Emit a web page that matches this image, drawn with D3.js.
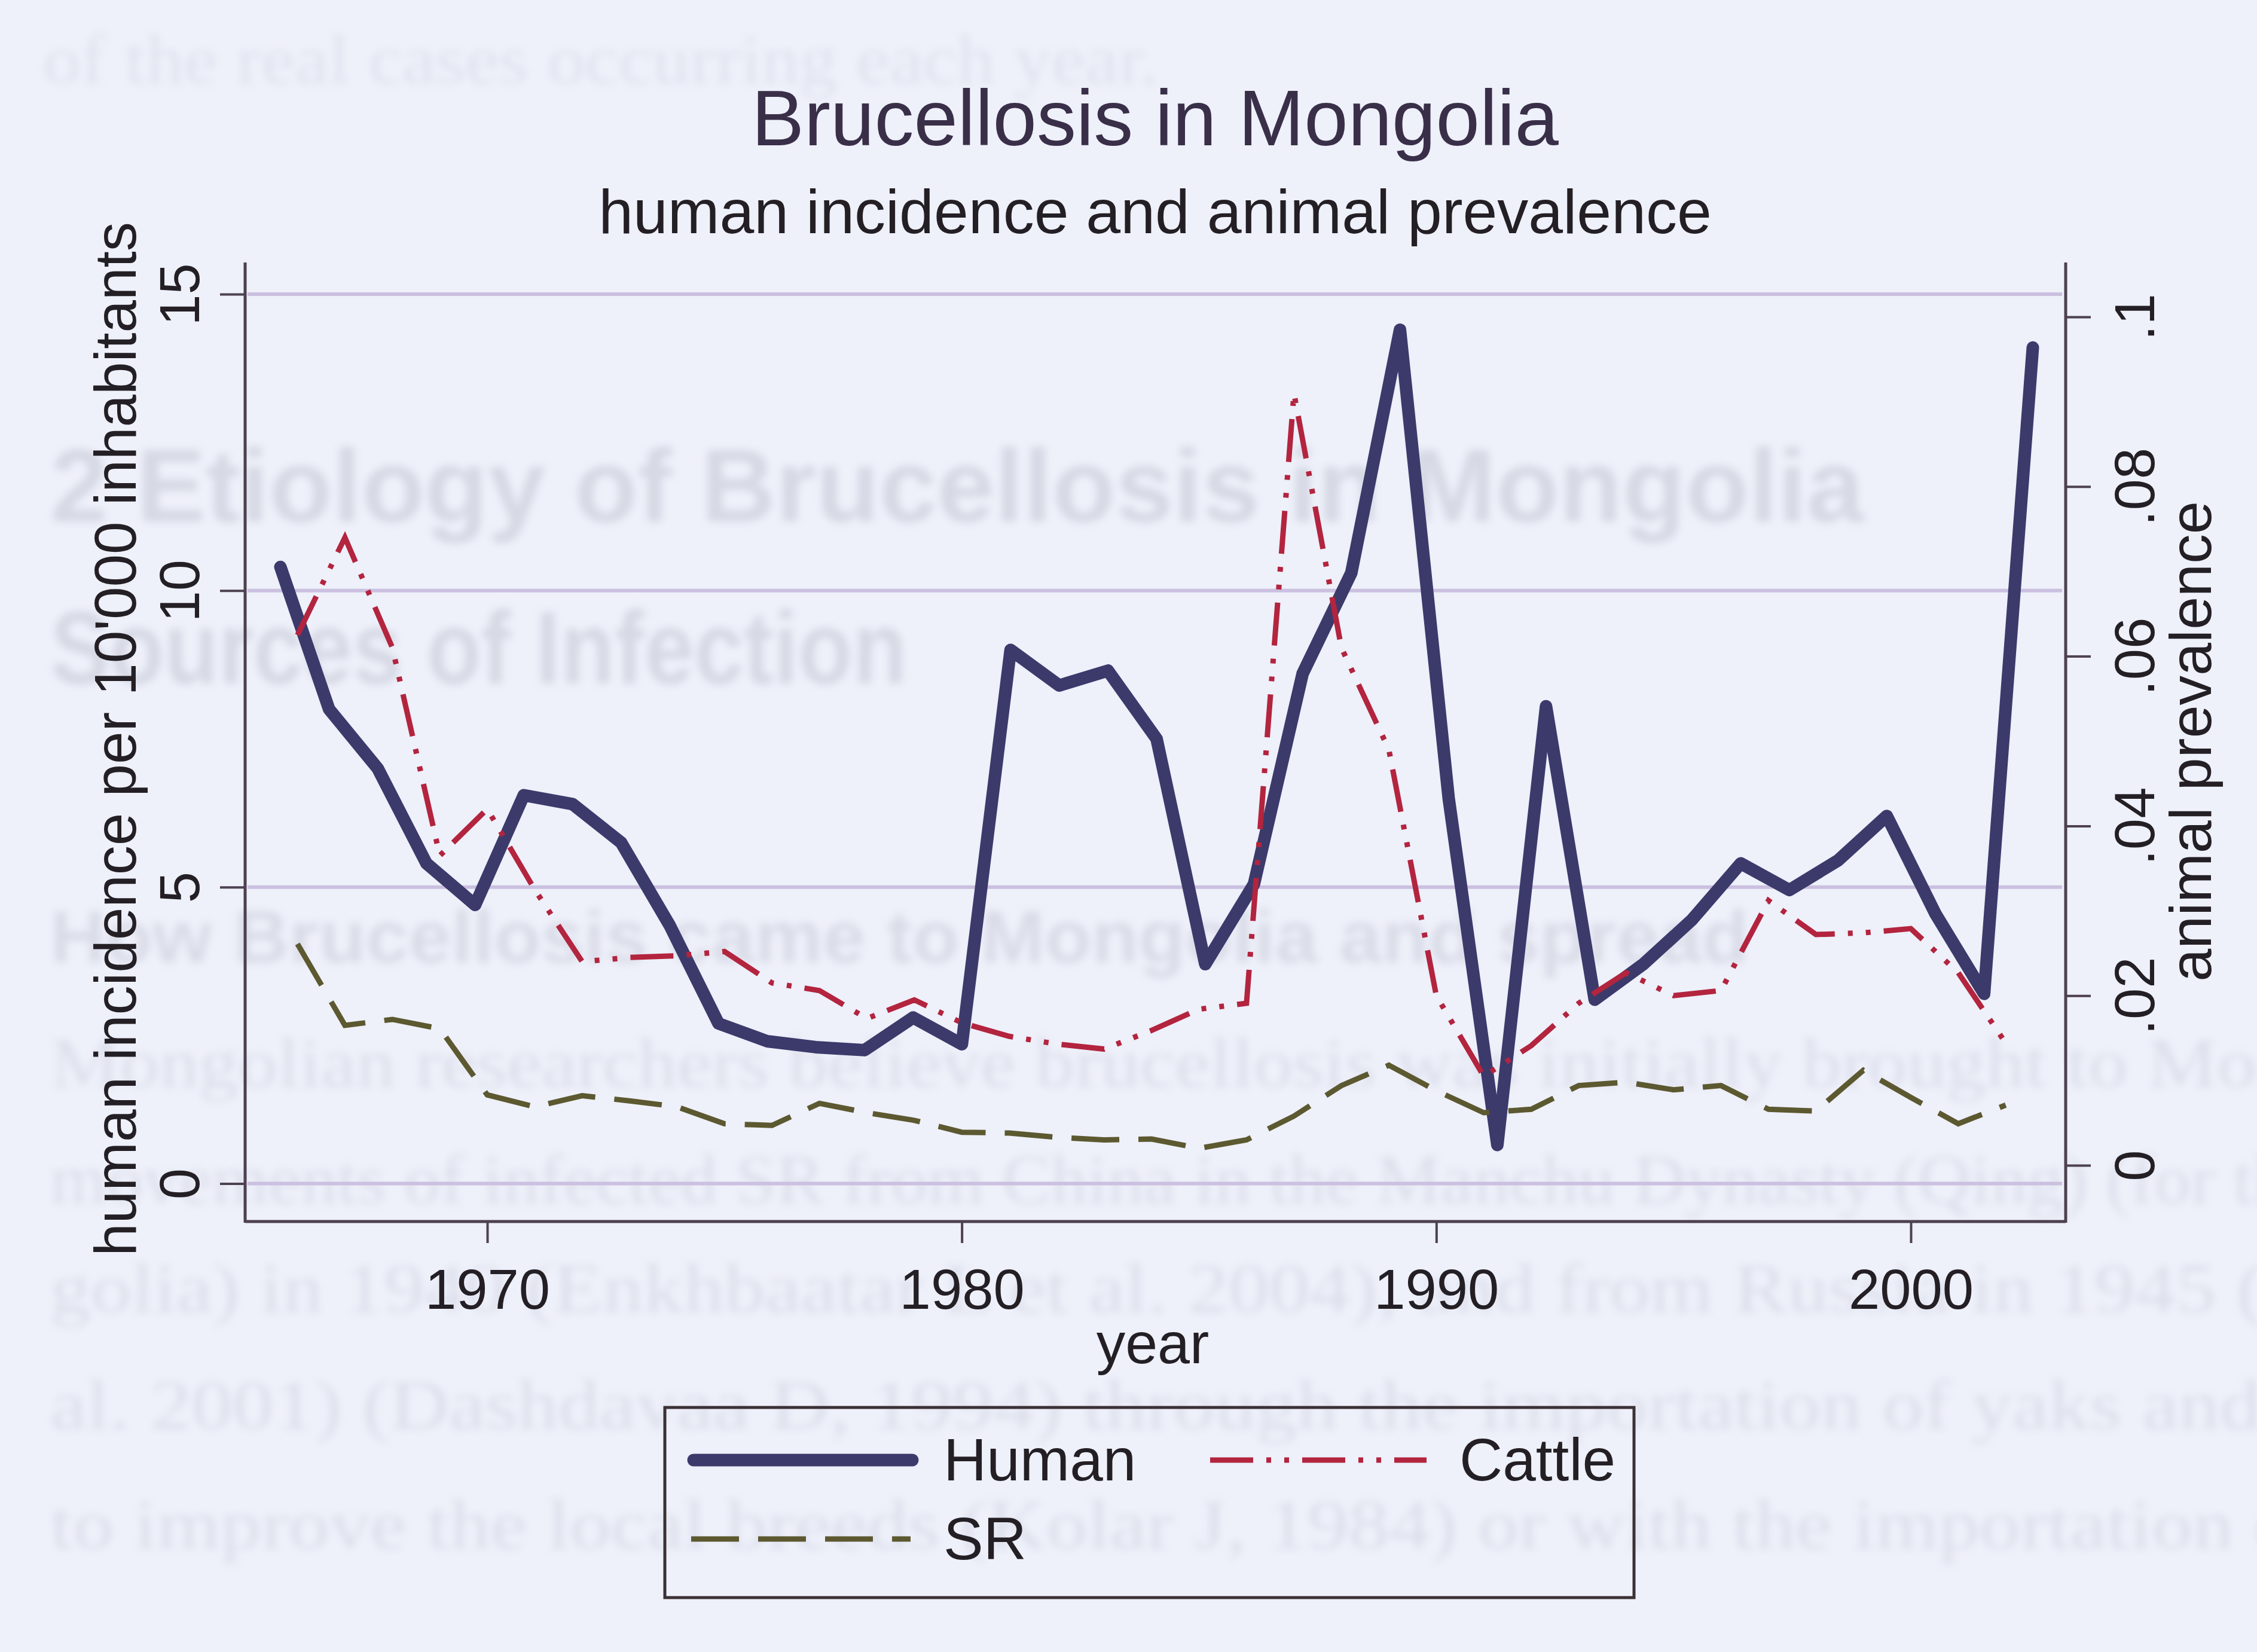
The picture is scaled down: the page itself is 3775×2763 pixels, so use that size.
<!DOCTYPE html>
<html>
<head>
<meta charset="utf-8">
<title>Brucellosis in Mongolia</title>
<script src="https://cdn.jsdelivr.net/npm/d3@7"></script>
<style>
  html, body { margin: 0; padding: 0; background: #eef0fa; }
  svg { display: block; font-family: "Liberation Sans", Arial, Helvetica, sans-serif; }
</style>
</head>
<body>
<div id="chart"></div>
<script>
// Years shared by all three series
const years = [1966, 1967, 1968, 1969, 1970, 1971, 1972, 1973, 1974, 1975,
               1976, 1977, 1978, 1979, 1980, 1981, 1982, 1983, 1984, 1985,
               1986, 1987, 1988, 1989, 1990, 1991, 1992, 1993, 1994, 1995,
               1996, 1997, 1998, 1999, 2000, 2001, 2002];

// Human incidence per 10'000 inhabitants (left axis)
const human = [10.4, 8.0, 7.0, 5.4, 4.7, 6.55, 6.4, 5.75, 4.35, 2.7,
               2.4, 2.3, 2.25, 2.8, 2.35, 9.0, 8.4, 8.65, 7.5, 3.7,
               5.05, 8.6, 10.3, 14.4, 6.5, 0.65, 8.05, 3.1, 3.7, 4.45,
               5.4, 4.95, 5.45, 6.2, 4.55, 3.2, 14.1];

// Animal prevalence (right axis)
const cattle = [0.0625, 0.074, 0.061, 0.0365, 0.042, 0.0325, 0.024, 0.0245, 0.0247, 0.0252,
                0.0215, 0.0206, 0.0173, 0.0195, 0.0168, 0.0152, 0.0143, 0.0137, 0.0159, 0.0184,
                0.0191, 0.091, 0.061, 0.049, 0.020, 0.0105, 0.0141, 0.0191, 0.0227, 0.020,
                0.0206, 0.0312, 0.0272, 0.0274, 0.0279, 0.0227, 0.0144];

const sr = [0.0261, 0.0165, 0.0172, 0.0161, 0.0083, 0.0069, 0.0082, 0.0076, 0.0069, 0.0049,
            0.0047, 0.0073, 0.0062, 0.0053, 0.0039, 0.0038, 0.0033, 0.0030, 0.0031, 0.0020,
            0.0030, 0.0058, 0.0094, 0.0118, 0.0088, 0.0062, 0.0066, 0.0094, 0.0098, 0.0089,
            0.0094, 0.0066, 0.0064, 0.0112, 0.0080, 0.0049, 0.0071];

const xTicks = [1970, 1980, 1990, 2000];
const leftTicks = [0, 5, 10, 15];
const rightTicks = [0, 0.02, 0.04, 0.06, 0.08, 0.1];
const rightTickLabels = ["0", ".02", ".04", ".06", ".08", ".1"];
const legendLabels = ["Human", "Cattle", "SR"];

// Faint bleed-through text from the scanned page behind the chart
const ghostLines = [
    "of the real cases occurring each year.",
    "2 Etiology of Brucellosis in Mongolia",
    "Sources of Infection",
    "How Brucellosis came to Mongolia and spread",
    "Mongolian researchers believe brucellosis was initially brought to Mon-",
    "movements of infected SR from China in the Manchu Dynasty (Qing) (for the",
    "golia) in 1940 (Enkhbaatar L et al. 2004), and from Russia in 1945 (O",
    "al. 2001) (Dashdavaa D, 1994) through the importation of yaks and h",
    "to improve the local breeds (Kolar J, 1984) or with the importation of"
];

function drawChart() {
    const W = 3775, H = 2763;
    const plot = { left: 410, right: 3455, top: 439, bottom: 2043 };
    const ink = "#231f24";
    const axisColor = "#4d4150";

    const svg = d3.select("#chart").append("svg")
        .attr("width", W)
        .attr("height", H)
        .attr("viewBox", `0 0 ${W} ${H}`);

    svg.append("rect").attr("width", W).attr("height", H).attr("fill", "#eef0fa");

    // ghost text layer
    const defs = svg.append("defs");
    defs.append("filter").attr("id", "blur")
        .attr("x", "-5%").attr("y", "-20%").attr("width", "110%").attr("height", "140%")
        .append("feGaussianBlur").attr("stdDeviation", 7);

    const ghostStyle = [
        { x: 72, y: 140, size: 118, bold: false, len: 1866, fill: "#e0e3ee" },
        { x: 84, y: 872, size: 172, bold: true, len: 3034, fill: "#d6d9e4" },
        { x: 84, y: 1143, size: 172, bold: true, len: 1433, fill: "#d6d9e4" },
        { x: 84, y: 1610, size: 124, bold: true, len: 2841, fill: "#d9dce7" },
        { x: 84, y: 1818, size: 118, bold: false, len: 3800, fill: "#dcdfea" },
        { x: 84, y: 2013, size: 118, bold: false, len: 3800, fill: "#dcdfea" },
        { x: 84, y: 2195, size: 118, bold: false, len: 3800, fill: "#dcdfea" },
        { x: 84, y: 2390, size: 118, bold: false, len: 3800, fill: "#dcdfea" },
        { x: 84, y: 2590, size: 118, bold: false, len: 3800, fill: "#dcdfea" }
    ];
    svg.append("g").attr("filter", "url(#blur)")
        .selectAll("text")
        .data(ghostLines)
        .enter().append("text")
        .attr("x", (d, i) => ghostStyle[i].x)
        .attr("y", (d, i) => ghostStyle[i].y)
        .attr("font-size", (d, i) => ghostStyle[i].size)
        .attr("font-weight", (d, i) => ghostStyle[i].bold ? "bold" : "normal")
        .attr("font-family", (d, i) => ghostStyle[i].bold ? "'Liberation Sans', Arial, sans-serif" : "'Liberation Serif', 'Times New Roman', serif")
        .attr("textLength", (d, i) => ghostStyle[i].len)
        .attr("lengthAdjust", "spacingAndGlyphs")
        .attr("fill", (d, i) => ghostStyle[i].fill)
        .text(d => d);

    // scales
    const x = d3.scaleLinear().domain([1970, 2000]).range([815, 3196]);
    // the human series sits on a slightly wider x span in the original figure
    const xHuman = d3.scaleLinear().domain([1966, 2002]).range([469, 3400]);
    const yLeft = d3.scaleLinear().domain([0, 15]).range([1979.5, 492]);
    const yRight = d3.scaleLinear().domain([0, 0.1]).range([1949, 530]);

    // gridlines
    svg.append("g").selectAll("line")
        .data(leftTicks)
        .enter().append("line")
        .attr("x1", plot.left + 4).attr("x2", plot.right - 6)
        .attr("y1", d => yLeft(d)).attr("y2", d => yLeft(d))
        .attr("stroke", "#cbc0e0")
        .attr("stroke-width", 6);

    // left axis
    const gl = svg.append("g")
        .attr("transform", `translate(${plot.left},0)`)
        .call(d3.axisLeft(yLeft).tickValues(leftTicks).tickSize(42).tickSizeOuter(0));
    gl.select(".domain").remove();
    gl.selectAll(".tick line").attr("stroke", axisColor).attr("stroke-width", 4);
    gl.selectAll(".tick text")
        .attr("x", 0).attr("dy", null).attr("y", -77)
        .attr("transform", "rotate(-90)")
        .attr("text-anchor", "middle")
        .attr("font-size", 94)
        .attr("font-family", "'Liberation Sans', Arial, sans-serif")
        .attr("fill", ink);

    // right axis
    const gr = svg.append("g")
        .attr("transform", `translate(${plot.right},0)`)
        .call(d3.axisRight(yRight).tickValues(rightTicks).tickSize(42).tickSizeOuter(0)
            .tickFormat((d, i) => rightTickLabels[i]));
    gr.select(".domain").remove();
    gr.selectAll(".tick line").attr("stroke", axisColor).attr("stroke-width", 4);
    gr.selectAll(".tick text")
        .attr("x", 0).attr("dy", null).attr("y", 148)
        .attr("transform", "rotate(-90)")
        .attr("text-anchor", "middle")
        .attr("font-size", 94)
        .attr("font-family", "'Liberation Sans', Arial, sans-serif")
        .attr("fill", ink);

    // bottom axis
    const gb = svg.append("g")
        .attr("transform", `translate(0,${plot.bottom})`)
        .call(d3.axisBottom(x).tickValues(xTicks).tickSize(36).tickSizeOuter(0)
            .tickFormat(d3.format("d")));
    gb.select(".domain").remove();
    gb.selectAll(".tick line").attr("stroke", axisColor).attr("stroke-width", 4);
    gb.selectAll(".tick text")
        .attr("dy", null).attr("y", 146)
        .attr("font-size", 94)
        .attr("font-family", "'Liberation Sans', Arial, sans-serif")
        .attr("fill", ink);

    // axis lines
    const frame = svg.append("g").attr("stroke", axisColor).attr("stroke-width", 5);
    frame.append("line").attr("x1", plot.left).attr("x2", plot.left)
        .attr("y1", plot.top).attr("y2", plot.bottom + 2);
    frame.append("line").attr("x1", plot.right).attr("x2", plot.right)
        .attr("y1", plot.top).attr("y2", plot.bottom + 2);
    frame.append("line").attr("x1", plot.left).attr("x2", plot.right)
        .attr("y1", plot.bottom).attr("y2", plot.bottom);

    // series
    const humanLine = d3.line().x((d, i) => xHuman(years[i])).y(d => yLeft(d));
    const animalLine = d3.line().x((d, i) => x(years[i])).y(d => yRight(d));

    svg.append("path").datum(human)
        .attr("d", humanLine)
        .attr("fill", "none")
        .attr("stroke", "#3c3a6b")
        .attr("stroke-width", 21)
        .attr("stroke-linejoin", "round")
        .attr("stroke-linecap", "round");

    svg.append("path").datum(cattle)
        .attr("d", animalLine)
        .attr("fill", "none")
        .attr("stroke", "#b3243e")
        .attr("stroke-width", 9)
        .attr("stroke-dasharray", "72,22,8,22,8,22");

    svg.append("path").datum(sr)
        .attr("d", animalLine)
        .attr("fill", "none")
        .attr("stroke", "#5c5830")
        .attr("stroke-width", 9)
        .attr("stroke-dasharray", "80,32");

    // titles
    svg.append("text")
        .attr("x", 1932).attr("y", 243)
        .attr("text-anchor", "middle")
        .attr("font-size", 132)
        .attr("fill", "#3a2f48")
        .text("Brucellosis in Mongolia");

    svg.append("text")
        .attr("x", 1932).attr("y", 390)
        .attr("text-anchor", "middle")
        .attr("font-size", 104)
        .attr("fill", ink)
        .text("human incidence and animal prevalence");

    svg.append("text")
        .attr("transform", "translate(227,1236) rotate(-90)")
        .attr("text-anchor", "middle")
        .attr("font-size", 98)
        .attr("fill", ink)
        .text("human incidence per 10'000 inhabitants");

    svg.append("text")
        .attr("transform", "translate(3698,1240) rotate(-90)")
        .attr("text-anchor", "middle")
        .attr("font-size", 99)
        .attr("fill", ink)
        .text("animal prevalence");

    svg.append("text")
        .attr("x", 1928).attr("y", 2280)
        .attr("text-anchor", "middle")
        .attr("font-size", 97)
        .attr("fill", ink)
        .text("year");

    // legend
    const legend = svg.append("g");
    legend.append("rect")
        .attr("x", 1112).attr("y", 2354)
        .attr("width", 1621).attr("height", 318)
        .attr("fill", "none")
        .attr("stroke", "#3b3135")
        .attr("stroke-width", 5);

    const keys = [
        { x1: 1160, x2: 1526, y: 2442, tx: 1578, stroke: "#3c3a6b", width: 21, dash: null },
        { x1: 2024, x2: 2386, y: 2442, tx: 2441, stroke: "#b3243e", width: 9, dash: "72,22,8,22,8,22" },
        { x1: 1156, x2: 1523, y: 2574, tx: 1578, stroke: "#5c5830", width: 9, dash: "80,32" }
    ];
    const item = legend.selectAll(".item")
        .data(legendLabels)
        .enter().append("g").attr("class", "item");
    item.append("line")
        .attr("x1", (d, i) => keys[i].x1).attr("x2", (d, i) => keys[i].x2)
        .attr("y1", (d, i) => keys[i].y).attr("y2", (d, i) => keys[i].y)
        .attr("stroke", (d, i) => keys[i].stroke)
        .attr("stroke-width", (d, i) => keys[i].width)
        .attr("stroke-dasharray", (d, i) => keys[i].dash)
        .attr("stroke-linecap", (d, i) => keys[i].dash ? "butt" : "round");
    item.append("text")
        .attr("x", (d, i) => keys[i].tx)
        .attr("y", (d, i) => keys[i].y + 34)
        .attr("font-size", 100)
        .attr("fill", ink)
        .text(d => d);
}

drawChart();
</script>
</body>
</html>
